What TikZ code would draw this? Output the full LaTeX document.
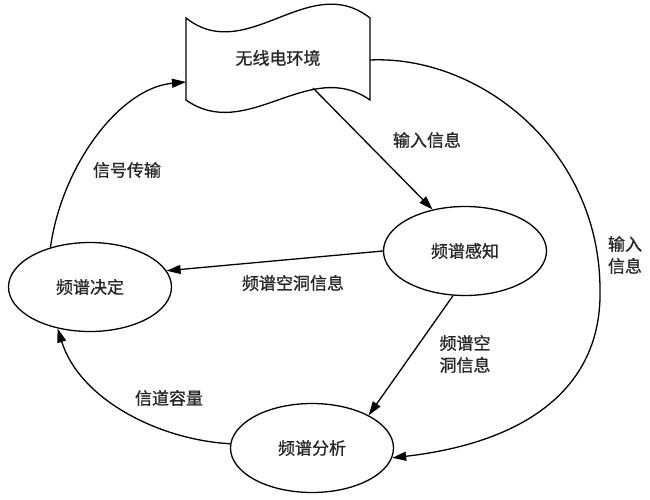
\documentclass[tikz,border=0pt]{standalone}
\usepackage{fontspec}
\setmainfont{Noto Sans CJK SC}
\newfontfamily\labelfont[FakeBold=1]{Noto Sans CJK SC}
\usetikzlibrary{shapes.geometric,arrows.meta}

\begin{document}
\begin{tikzpicture}[x=1pt,y=-1pt,line width=1.3pt,
  txt/.style={font=\labelfont\fontsize{17}{22}\selectfont,text=black!85},
  oval/.style={ellipse,draw,minimum width=163pt,minimum height=89pt,inner sep=0pt,txt},
  arr/.style={-{Triangle[length=14pt,width=9pt]}}]

\useasboundingbox (0,0) rectangle (650,500);

% radio environment
\draw (186,18) .. controls (247,66) and (309,-30) .. (370,18)
  -- (370,100) .. controls (309,57) and (247,143) .. (186,100) -- cycle;
\node[txt] (env) at (278,58) {无线电环境};
\coordinate (envleft) at (186,82);
\coordinate (envright) at (370,60);
\coordinate (envbottom) at (313,88);

% ovals
\node[oval] (sense) at (465,251) {频谱感知};
\node[oval] (decide) at (90,287) {频谱决定};
\node[oval] (analyse) at (312,448) {频谱分析};

% signal out
\draw[arr] (decide.135) .. controls (62,165) and (120,88) .. (envleft);
\node[txt] (lbsignal) at (127,170) {信号传输};

% input to sensing
\draw[arr] (envbottom) -- (sense.128);
\node[txt] (lbinput) at (427,140) {输入信息};

% input to analysis
\draw[arr] (envright) .. controls (480,55) and (600,150) .. (600,290)
  .. controls (602,385) and (530,442) .. (analyse.353);
\node[txt,align=center] (lbinput2) at (625,255) {输入\\信息};

% holes to decision
\draw[arr] (sense.west) -- (decide.12);
\node[txt] (lbholes) at (293,283) {频谱空洞信息};

% holes to analysis
\draw[arr] (sense.255) -- (analyse.30);
\node[txt,align=center] (lbholes2) at (465,354) {频谱空\\洞信息};

% capacity
\draw[arr] (analyse.177) .. controls (160,440) and (80,400) .. (decide.232);
\node[txt] (lbcap) at (169,398) {信道容量};

\end{tikzpicture}
\end{document}
